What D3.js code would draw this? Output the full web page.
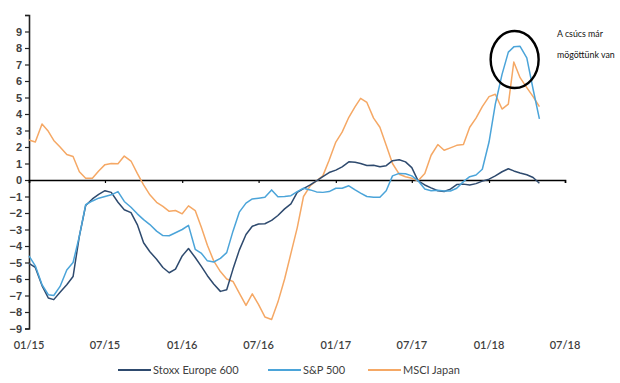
<!DOCTYPE html>
<html>
<head>
<meta charset="utf-8">
<script src="https://cdn.jsdelivr.net/npm/d3@7"></script>
<style>
  html, body { margin: 0; padding: 0; background: #fff; }
  svg { display: block; font-family: Lato, "Open Sans", sans-serif; }
</style>
</head>
<body>
<svg id="chart" width="620" height="383"></svg>
<script>
// Half-monthly observation dates
const dates = [
  "2015-01-01","2015-01-16","2015-02-01","2015-02-16","2015-03-01","2015-03-16","2015-04-01","2015-04-16",
  "2015-05-01","2015-05-16","2015-06-01","2015-06-16","2015-07-01","2015-07-16","2015-08-01","2015-08-16",
  "2015-09-01","2015-09-16","2015-10-01","2015-10-16","2015-11-01","2015-11-16","2015-12-01","2015-12-16",
  "2016-01-01","2016-01-16","2016-02-01","2016-02-16","2016-03-01","2016-03-16","2016-04-01","2016-04-16",
  "2016-05-01","2016-05-16","2016-06-01","2016-06-16","2016-07-01","2016-07-16","2016-08-01","2016-08-16",
  "2016-09-01","2016-09-16","2016-10-01","2016-10-16","2016-11-01","2016-11-16","2016-12-01","2016-12-16",
  "2017-01-01","2017-01-16","2017-02-01","2017-02-16","2017-03-01","2017-03-16","2017-04-01","2017-04-16",
  "2017-05-01","2017-05-16","2017-06-01","2017-06-16","2017-07-01","2017-07-16","2017-08-01","2017-08-16",
  "2017-09-01","2017-09-16","2017-10-01","2017-10-16","2017-11-01","2017-11-16","2017-12-01","2017-12-16",
  "2018-01-01","2018-01-16","2018-02-01","2018-02-16","2018-03-01","2018-03-16","2018-04-01","2018-04-16",
  "2018-05-01"
];

const stoxx = [
  -5.05,-5.3,-6.4,-7.15,-7.25,-6.8,-6.35,-5.85,
  -3.4,-1.55,-1.15,-0.87,-0.65,-0.75,-1.35,-1.8,
  -1.98,-2.7,-3.8,-4.35,-4.8,-5.3,-5.62,-5.4,
  -4.6,-4.15,-4.7,-5.25,-5.8,-6.3,-6.75,-6.65,
  -5.4,-4.25,-3.3,-2.8,-2.67,-2.65,-2.45,-2.15,
  -1.75,-1.45,-0.75,-0.52,-0.3,-0.05,0.2,0.45,
  0.6,0.8,1.1,1.07,1.0,0.88,0.9,0.8,
  0.87,1.17,1.23,1.1,0.75,-0.05,-0.3,-0.48,
  -0.65,-0.7,-0.55,-0.28,-0.25,-0.3,-0.22,-0.07,
  0.05,0.25,0.5,0.68,0.55,0.42,0.32,0.15,
  -0.2
];

const sp500 = [
  -4.6,-5.2,-6.35,-6.95,-7.0,-6.45,-5.45,-5.0,
  -3.4,-1.5,-1.27,-1.1,-1.0,-0.9,-0.7,-1.3,
  -1.65,-2.05,-2.4,-2.7,-3.1,-3.37,-3.38,-3.2,
  -3.0,-2.75,-4.2,-4.45,-4.9,-4.97,-4.75,-4.4,
  -3.1,-1.95,-1.4,-1.15,-1.1,-1.05,-0.6,-1.02,
  -1.0,-0.95,-0.7,-0.5,-0.6,-0.72,-0.75,-0.7,
  -0.5,-0.5,-0.35,-0.6,-0.8,-1.0,-1.05,-1.05,
  -0.65,0.25,0.4,0.38,0.25,-0.05,-0.55,-0.65,
  -0.62,-0.67,-0.67,-0.5,-0.1,0.2,0.3,0.65,
  2.3,4.6,6.4,7.75,8.07,8.1,7.4,5.5,
  3.7
];

const msciJapan = [
  2.42,2.3,3.4,2.95,2.4,2.0,1.55,1.42,
  0.5,0.1,0.1,0.55,0.93,1.0,0.98,1.45,
  1.15,0.4,-0.3,-0.9,-1.35,-1.6,-1.9,-1.85,
  -2.05,-1.57,-1.85,-2.9,-3.95,-4.9,-5.55,-6.0,
  -6.15,-6.85,-7.6,-6.9,-7.55,-8.3,-8.45,-7.4,
  -6.0,-4.45,-2.9,-1.0,-0.35,-0.05,0.25,1.2,
  2.3,2.9,3.8,4.45,4.95,4.7,3.75,3.2,
  2.1,1.0,0.35,0.2,0.1,-0.05,0.4,1.5,
  2.15,1.8,1.95,2.1,2.15,3.2,3.75,4.45,
  5.05,5.2,4.3,4.6,7.15,6.2,5.6,5.05,
  4.45
];

const seriesNames = ["Stoxx Europe 600", "S&P 500", "MSCI Japan"];
const seriesColors = ["#2e4a6e", "#4ba4d9", "#f5a865"];
const xTickDates = ["2015-01-01","2015-07-01","2016-01-01","2016-07-01","2017-01-01","2017-07-01","2018-01-01","2018-07-01"];
const xTickLabels = ["01/15","07/15","01/16","07/16","01/17","07/17","01/18","07/18"];
const yTicks = [-9,-8,-7,-6,-5,-4,-3,-2,-1,0,1,2,3,4,5,6,7,8,9,10];
const annotation = ["A csúcs már", "mögöttünk van"];

const parse = d3.timeParse("%Y-%m-%d");
const svg = d3.select("#chart");

const x = d3.scaleTime()
  .domain([parse("2015-01-01"), parse("2018-07-01")])
  .range([29, 565]);
const y = d3.scaleLinear().domain([-9, 10]).range([328.5, 15]);

const textColor = "#404040";

// Y axis
const yAxis = svg.append("g")
  .attr("transform", "translate(29,0)")
  .call(d3.axisLeft(y).tickValues(yTicks).tickSize(4).tickPadding(3)
    .tickFormat(d => d === 10 ? "" : d3.format("d")(d)));
yAxis.select(".domain").attr("stroke", "#222").attr("stroke-width", 1.6);
yAxis.selectAll(".tick line").attr("stroke", "#222").attr("stroke-width", 1.2);
yAxis.selectAll(".tick text").attr("fill", textColor).attr("font-size", 11).attr("font-weight", 600);

// X axis on zero line
const xAxis = svg.append("g")
  .attr("transform", `translate(0,${y(0)})`)
  .call(d3.axisBottom(x).tickValues(xTickDates.map(parse)).tickSize(3).tickFormat(""));
xAxis.select(".domain").attr("stroke", "#000").attr("stroke-width", 1.6);
xAxis.selectAll(".tick line").attr("stroke", "#000").attr("stroke-width", 1.2);

// X labels at bottom
svg.append("g").selectAll("text")
  .data(xTickDates)
  .join("text")
  .attr("x", d => x(parse(d)))
  .attr("y", 349)
  .attr("text-anchor", "middle")
  .attr("font-size", 11)
  .attr("font-weight", 600)
  .attr("fill", textColor)
  .text((d, i) => xTickLabels[i]);

// Lines
const allSeries = [stoxx, sp500, msciJapan];
const line = d3.line()
  .x((d, i) => x(parse(dates[i])))
  .y(d => y(d))
  .curve(d3.curveLinear);

const drawOrder = [2, 0, 1];
drawOrder.forEach(k => {
  svg.append("path")
    .datum(allSeries[k])
    .attr("fill", "none")
    .attr("stroke", seriesColors[k])
    .attr("stroke-width", 1.5)
    .attr("stroke-linejoin", "round")
    .attr("d", line);
});

// Legend
const legendX = [118, 268, 368];
const legend = svg.append("g");
seriesNames.forEach((name, i) => {
  legend.append("line")
    .attr("x1", legendX[i]).attr("x2", legendX[i] + 33)
    .attr("y1", 370).attr("y2", 370)
    .attr("stroke", seriesColors[i]).attr("stroke-width", 2);
  legend.append("text")
    .attr("x", legendX[i] + 35).attr("y", 374)
    .attr("font-size", 11)
    .attr("fill", textColor)
    .text(name);
});

// Annotation
svg.append("ellipse")
  .attr("cx", x(parse("2018-03-03"))).attr("cy", y(7.3))
  .attr("rx", 24).attr("ry", 28.5)
  .attr("fill", "none").attr("stroke", "#000").attr("stroke-width", 2.4);
annotation.forEach((t, i) => {
  svg.append("text")
    .attr("x", 557).attr("y", 37 + i * 21)
    .attr("font-size", 8.8)
    .attr("fill", "#111")
    .text(t);
});
</script>
</body>
</html>
